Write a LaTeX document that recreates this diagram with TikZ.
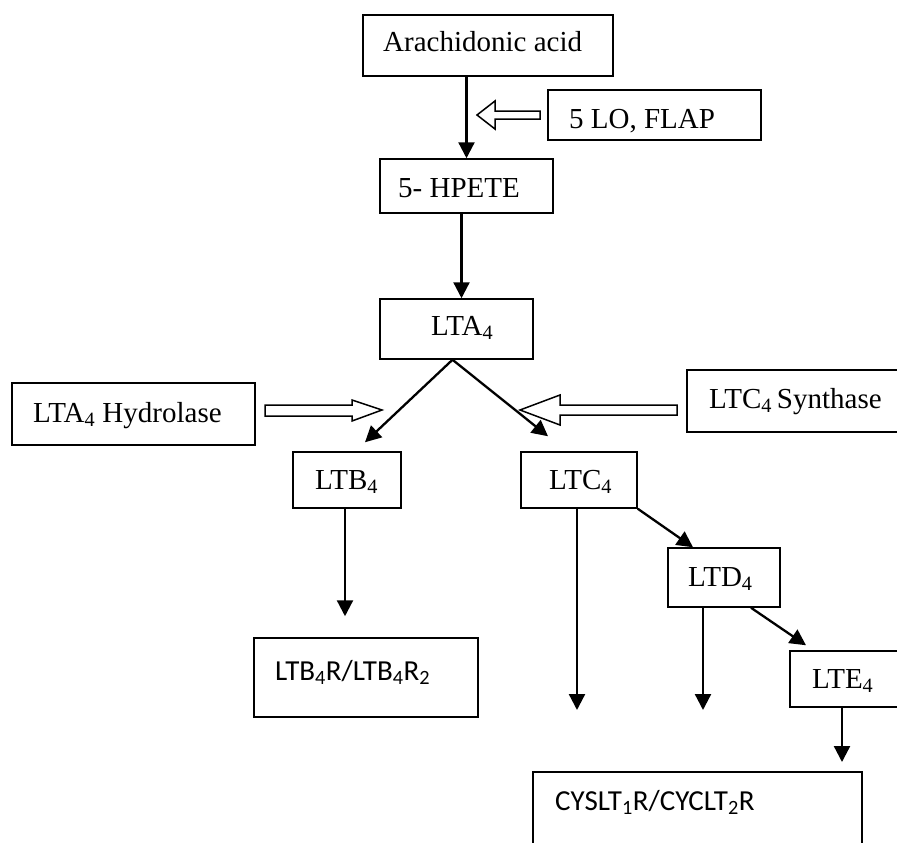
\documentclass[tikz,border=0pt]{standalone}
\usepackage{fontspec}
\setmainfont{Liberation Serif}
\newfontfamily\calib{Carlito}
\usetikzlibrary{arrows.meta}
\begin{document}
\begin{tikzpicture}[x=1pt,y=-1pt,
  box/.style={draw,line width=1.5pt,inner sep=0pt},
  lbl/.style={anchor=base west,inner sep=0pt,font=\fontsize{29}{34}\selectfont},
  slbl/.style={anchor=base west,inner sep=0pt,font=\calib\fontsize{29}{34}\selectfont},
  arr/.style={line width=2.3pt,-{Triangle[length=16pt,width=16pt]}},
  blk/.style={draw,line width=1.5pt,fill=white,line join=miter}]
\useasboundingbox (0,0) rectangle (897,843);
\clip (0,0) rectangle (897,843);
% boxes
\node[box,minimum width=250pt,minimum height=61pt] (aa) at (488,45.5) {};
\node[box,minimum width=213pt,minimum height=50pt] (lo) at (654.5,115) {};
\node[box,minimum width=173pt,minimum height=54pt] (hp) at (466.5,186) {};
\node[box,minimum width=153pt,minimum height=60pt] (lta) at (456.5,329) {};
\node[box,minimum width=243pt,minimum height=62pt] (hyd) at (133.5,414) {};
\node[box,minimum width=223pt,minimum height=62pt] (syn) at (798.5,401) {};
\node[box,minimum width=108pt,minimum height=56pt] (ltb) at (347,480) {};
\node[box,minimum width=116pt,minimum height=56pt] (ltc) at (579,480) {};
\node[box,minimum width=112pt,minimum height=59pt] (ltd) at (724,577.5) {};
\node[box,minimum width=120pt,minimum height=56pt] (lte) at (850,679) {};
\node[box,minimum width=224pt,minimum height=79pt] (ltbr) at (366,677.5) {};
\node[box,minimum width=329pt,minimum height=88pt] (cys) at (697.5,816) {};
% texts
\node[lbl] (taa) at (383,52) {Arachidonic acid};
\node[lbl] (tlo) at (569,128) {5 LO, FLAP};
\node[lbl] (thp) at (398,197) {5- HPETE};
\node[lbl] (tlta) at (431,335) {LTA\textsubscript{4}};
\node[lbl] (thyd) at (33,422) {LTA\textsubscript{4} Hydrolase};
\node[lbl] (tsyn) at (709,408) {LTC\textsubscript{4}\kern5pt Synthase};
\node[lbl] (tltb) at (315,489) {LTB\textsubscript{4}};
\node[lbl] (tltc) at (549,489) {LTC\textsubscript{4}};
\node[lbl] (tltd) at (688,586) {LTD\textsubscript{4}};
\node[lbl] (tlte) at (812,688) {LTE\textsubscript{4}};
\node[slbl] (tltbr) at (275,680) {LTB\textsubscript{4}R/LTB\textsubscript{4}R\textsubscript{2}};
\node[slbl] (tcys) at (555,810) {CYSLT\textsubscript{1}R/CYCLT\textsubscript{2}R};
% free ends
\coordinate (c1) at (577,710);
\coordinate (d1) at (703,710);
\coordinate (e1) at (842,762);
\coordinate (lotip) at (477,115);
\coordinate (hydtip) at (382,410);
\coordinate (syntip) at (520,410);
% connectors
\draw[arr] (hp.north |- aa.south) -- (hp.north);
\draw[arr] ([xshift=-5pt]hp.south) -- ([xshift=5pt]lta.north);
\draw[arr] ([xshift=-4pt]lta.south) -- ([xshift=18pt,yshift=9pt]ltb.north);
\draw[arr] ([xshift=-4pt]lta.south) -- ([xshift=-31pt,yshift=15pt]ltc.north);
\draw[arr] ([xshift=-2pt]ltb.south) -- ([xshift=-21pt,yshift=21pt]ltbr.north);
\draw[arr] ([xshift=-2pt]ltc.south) -- (c1);
\draw[arr] (ltc.south east) -- ([xshift=-31pt]ltd.north);
\draw[arr] ([xshift=-21pt]ltd.south) -- (d1);
\draw[arr] ([xshift=27pt]ltd.south) -- ([xshift=-44pt,yshift=5pt]lte.north);
\draw[arr] ([xshift=-8pt]lte.south) -- (e1);
% block arrows
\draw[blk] (lotip) -- ++(18,-14) -- ++(0,10) -- ++(45,0) -- ++(0,8) -- ++(-45,0) -- ++(0,10) -- cycle;
\draw[blk] (hydtip) -- ++(-30,-10) -- ++(0,5) -- ++(-87,0) -- ++(0,11) -- ++(87,0) -- ++(0,5) -- cycle;
\draw[blk] (syntip) -- ++(40,-15) -- ++(0,10) -- ++(117,0) -- ++(0,10) -- ++(-117,0) -- ++(0,10) -- cycle;
\end{tikzpicture}
\end{document}
